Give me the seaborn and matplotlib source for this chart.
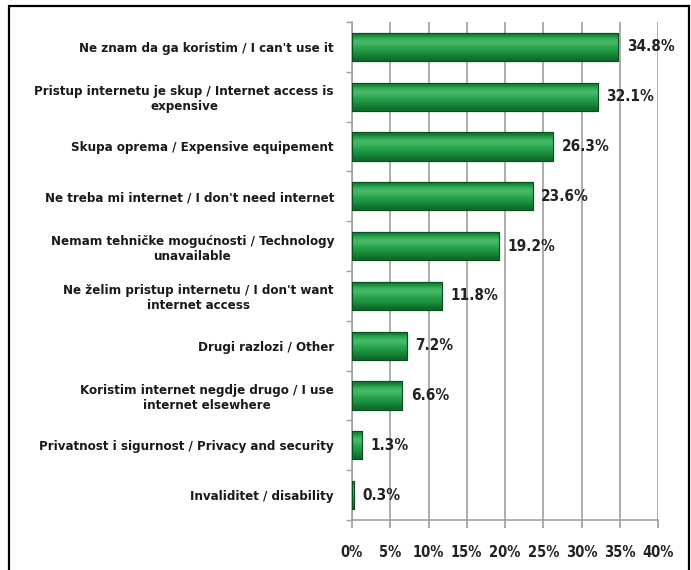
import matplotlib
matplotlib.use("Agg")
import matplotlib.pyplot as plt
import matplotlib.patches as mpatches
from matplotlib.colors import LinearSegmentedColormap
import numpy as np
import pandas as pd
import seaborn as sns

categories = [
    "Ne znam da ga koristim / I can't use it",
    "Pristup internetu je skup / Internet access is\nexpensive",
    "Skupa oprema / Expensive equipement",
    "Ne treba mi internet / I don't need internet",
    "Nemam tehničke mogućnosti / Technology\nunavailable",
    "Ne želim pristup internetu / I don't want\ninternet access",
    "Drugi razlozi / Other",
    "Koristim internet negdje drugo / I use\ninternet elsewhere",
    "Privatnost i sigurnost / Privacy and security",
    "Invaliditet / disability",
]
values = [34.8, 32.1, 26.3, 23.6, 19.2, 11.8, 7.2, 6.6, 1.3, 0.3]
xticks = [0, 5, 10, 15, 20, 25, 30, 35, 40]
xticklabels = ["0%", "5%", "10%", "15%", "20%", "25%", "30%", "35%", "40%"]

sns.set_theme(style="white")
plt.rcParams['font.family'] = ['DejaVu Sans']
plt.rcParams['font.weight'] = 'bold'
plt.rcParams['font.stretch'] = 'condensed'

df = pd.DataFrame({"cat": categories, "val": values})

fig = plt.figure(figsize=(6.91, 5.70), dpi=100)
ax = fig.add_axes([352/691, 1 - 520/570, (658-352)/691, (520-22)/570])

sns.barplot(data=df, x="val", y="cat", color="#1f9a45", width=0.57,
            edgecolor="#0b4f20", linewidth=0.8, ax=ax, zorder=3)

grad = np.array([0.1, 0.65, 0.85, 0.6, 0.45, 0.3, 0.05]).reshape(-1, 1)
cmap = LinearSegmentedColormap.from_list("g", ["#0c6428", "#22a047", "#62cc82"])
for p in ax.patches:
    x0, y0 = p.get_x(), p.get_y()
    w, h = p.get_width(), p.get_height()
    im = ax.imshow(grad, cmap=cmap, aspect="auto", extent=[x0, x0 + w, y0 + h, y0],
                   zorder=3.5, interpolation="bicubic", vmin=0, vmax=1)
    im.set_clip_path(p)
    edge = mpatches.Rectangle((x0, y0), w, h, fill=False, edgecolor="#0b4f20",
                              linewidth=0.8, zorder=4)
    ax.add_patch(edge)

ax.set_xlim(0, 40)
ax.set_ylim(len(categories) - 0.5, -0.5)
ax.set_xticks(xticks)
ax.set_xticklabels(xticklabels, fontsize=10.5, fontweight="bold", color="#222222")
ax.set_xlabel("")
ax.set_ylabel("")
ax.grid(axis="x", color="#a0a0a0", linewidth=1.2, zorder=0)
ax.set_axisbelow(True)

for s in ["top", "right"]:
    ax.spines[s].set_visible(False)
for s in ["left", "bottom"]:
    ax.spines[s].set_color("#a0a0a0")
    ax.spines[s].set_linewidth(1.2)

ax.tick_params(axis="x", length=6, color="#a0a0a0", pad=12, bottom=True)
ax.tick_params(axis="y", length=0, pad=13)
ax.set_yticks(np.arange(-0.5, len(categories), 1.0), minor=True)
ax.tick_params(axis="y", which="minor", length=4, color="#a0a0a0", left=True)

for lbl in ax.get_yticklabels():
    lbl.set_multialignment("center")
    lbl.set_fontsize(9.5)
    lbl.set_fontweight("bold")
    lbl.set_color("#1a1a1a")

for i, v in enumerate(values):
    ax.text(v + 1.1, i, f"{v:.1f}%", va="center", ha="left", fontsize=11,
            fontweight="bold", color="#222222", zorder=5)

frame = mpatches.Rectangle((9/691, -0.1), (689-9)/691, 1.1 - 6/570,
                           transform=fig.transFigure, fill=False,
                           edgecolor="black", linewidth=1.6)
fig.patches.append(frame)

fig.savefig("out.png", dpi=100)
